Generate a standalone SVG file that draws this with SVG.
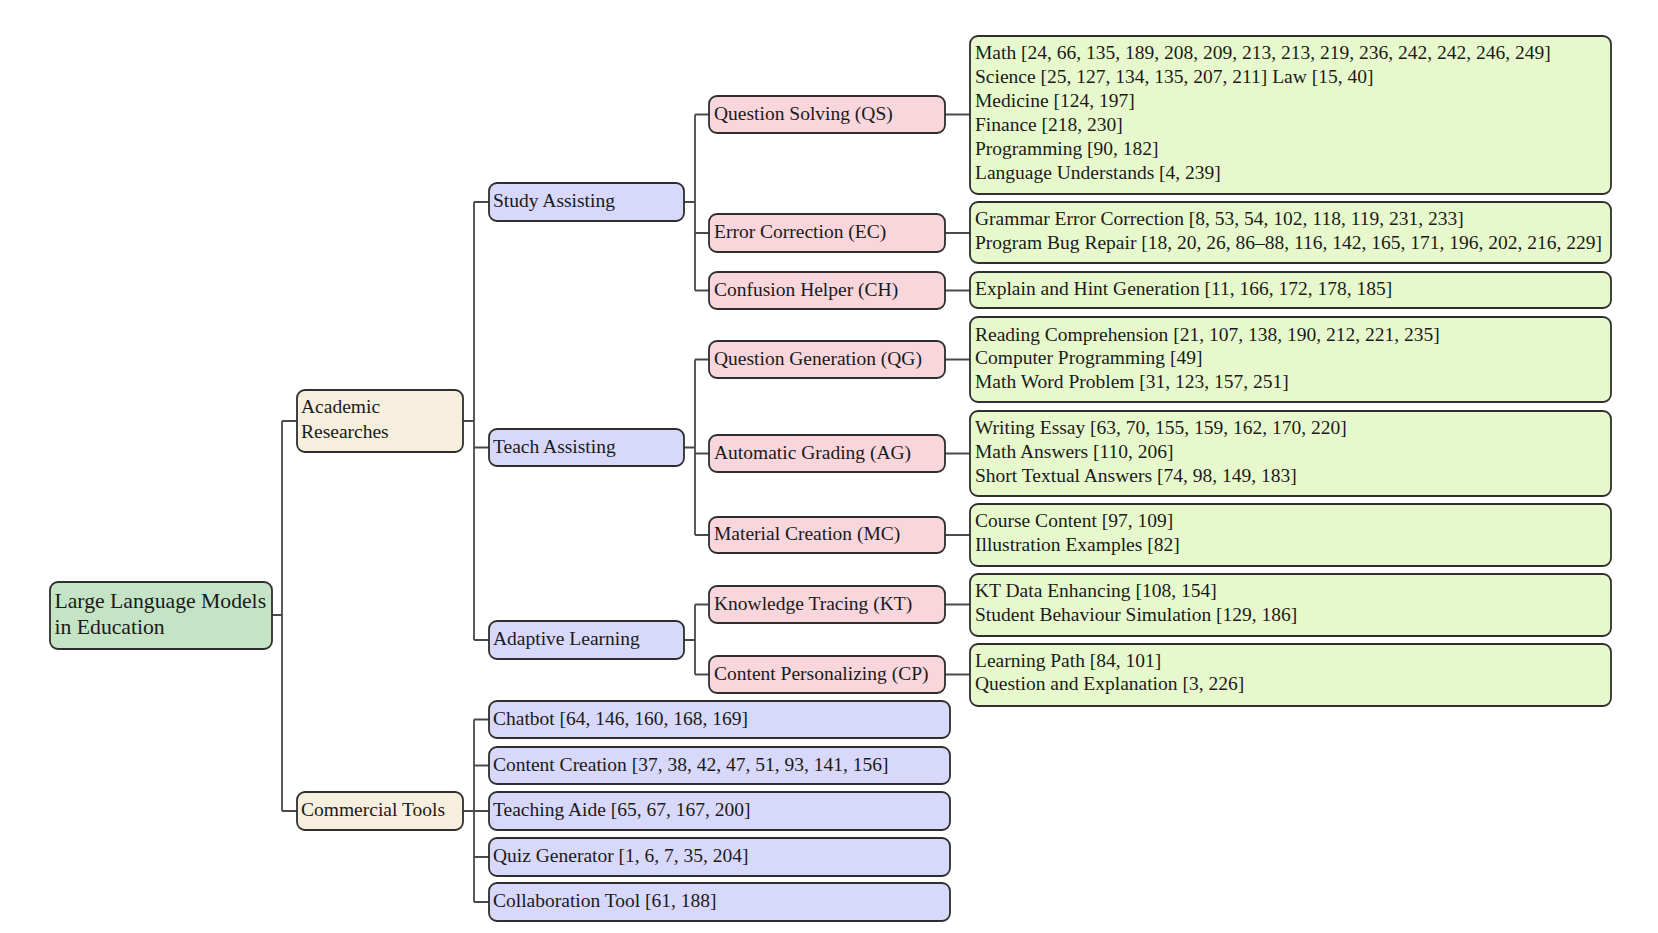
<svg xmlns="http://www.w3.org/2000/svg" width="1658" height="933" viewBox="0 0 1658 933">
<style>
text{font-family:"Liberation Serif","Times New Roman",serif;font-size:19.5px;fill:#1a1a1a}
.box{stroke:#2e2e2e;stroke-width:1.8}
.root{fill:#c5e4c5}
.l1{fill:#f6efde}
.l2{fill:#d8d8fb}
.l3{fill:#f8d6dc}
.l4{fill:#e7f9cc}
.conn{fill:none;stroke:#4a4a4a;stroke-width:1.8}
</style>
<rect width="1658" height="933" fill="#ffffff"/>
<g id="connectors" class="conn">
<path d="M272 615H282M282 421V811M282 421H297M282 811H297"/>
<path d="M463 421H474M474 202V640M474 202H489M474 447.5H489M474 640H489"/>
<path d="M463 811H474M474 719.5V902M474 719.5H489M474 765.5H489M474 811H489M474 857H489M474 902H489"/>
<path d="M684 202H695M695 114.5V290.5M695 114.5H709M695 233H709M695 290.5H709"/>
<path d="M684 447.5H695M695 359.5V535M695 359.5H709M695 453.5H709M695 535H709"/>
<path d="M684 640H695M695 604.5V674.5M695 604.5H709M695 674.5H709"/>
<path d="M945 114.5H970M945 233H970M945 290.5H970M945 359.5H970M945 453.5H970M945 535H970M945 604.5H970M945 674.5H970"/>
</g>
<g id="root"><rect class="box root" x="50" y="582" width="222" height="67" rx="8"/><text x="54.5" y="608" style="font-size:21.7px">Large Language Models</text><text x="54.5" y="633.5" style="font-size:21.7px">in Education</text></g>
<g id="academic"><rect class="box l1" x="297" y="390" width="166" height="62" rx="8"/><text x="301" y="413">Academic</text><text x="301" y="438">Researches</text></g>
<g id="commercial"><rect class="box l1" x="297" y="792" width="166" height="38" rx="8"/><text x="301" y="815.5">Commercial Tools</text></g>
<g id="study"><rect class="box l2" x="489" y="183" width="195" height="38" rx="8"/><text x="493" y="207">Study Assisting</text></g>
<g id="teach"><rect class="box l2" x="489" y="429" width="195" height="37" rx="8"/><text x="493" y="452.5">Teach Assisting</text></g>
<g id="adaptive"><rect class="box l2" x="489" y="621" width="195" height="38" rx="8"/><text x="493" y="645">Adaptive Learning</text></g>
<g id="chatbot"><rect class="box l2" x="489" y="701" width="461" height="37" rx="8"/><text x="493" y="724.5">Chatbot [64, 146, 160, 168, 169]</text></g>
<g id="content-creation"><rect class="box l2" x="489" y="747" width="461" height="37" rx="8"/><text x="493" y="770.5">Content Creation [37, 38, 42, 47, 51, 93, 141, 156]</text></g>
<g id="teaching-aide"><rect class="box l2" x="489" y="792" width="461" height="38" rx="8"/><text x="493" y="815.5">Teaching Aide [65, 67, 167, 200]</text></g>
<g id="quiz"><rect class="box l2" x="489" y="838" width="461" height="38" rx="8"/><text x="493" y="861.5">Quiz Generator [1, 6, 7, 35, 204]</text></g>
<g id="collab"><rect class="box l2" x="489" y="883" width="461" height="38" rx="8"/><text x="493" y="906.5">Collaboration Tool [61, 188]</text></g>
<g id="qs"><rect class="box l3" x="709" y="96" width="236" height="37" rx="8"/><text x="714" y="119.5">Question Solving (QS)</text></g>
<g id="ec"><rect class="box l3" x="709" y="214" width="236" height="38" rx="8"/><text x="714" y="237.5">Error Correction (EC)</text></g>
<g id="ch"><rect class="box l3" x="709" y="272" width="236" height="37" rx="8"/><text x="714" y="295.5">Confusion Helper (CH)</text></g>
<g id="qg"><rect class="box l3" x="709" y="341" width="236" height="37" rx="8"/><text x="714" y="364.5">Question Generation (QG)</text></g>
<g id="ag"><rect class="box l3" x="709" y="435" width="236" height="37" rx="8"/><text x="714" y="458.5">Automatic Grading (AG)</text></g>
<g id="mc"><rect class="box l3" x="709" y="517" width="236" height="36" rx="8"/><text x="714" y="540">Material Creation (MC)</text></g>
<g id="kt"><rect class="box l3" x="709" y="586" width="236" height="37" rx="8"/><text x="714" y="609.5">Knowledge Tracing (KT)</text></g>
<g id="cp"><rect class="box l3" x="709" y="656" width="236" height="37" rx="8"/><text x="714" y="679.5">Content Personalizing (CP)</text></g>
<g id="qs-leaf"><rect class="box l4" x="970" y="36" width="641" height="158" rx="8"/>
<text x="975" y="58.5">Math [24, 66, 135, 189, 208, 209, 213, 213, 219, 236, 242, 242, 246, 249]</text>
<text x="975" y="82.5">Science [25, 127, 134, 135, 207, 211] Law [15, 40]</text>
<text x="975" y="106.5">Medicine [124, 197]</text>
<text x="975" y="130.5">Finance [218, 230]</text>
<text x="975" y="154.5">Programming [90, 182]</text>
<text x="975" y="178.5">Language Understands [4, 239]</text></g>
<g id="ec-leaf"><rect class="box l4" x="970" y="202" width="641" height="61" rx="8"/>
<text x="975" y="224.5">Grammar Error Correction [8, 53, 54, 102, 118, 119, 231, 233]</text>
<text x="975" y="248.5">Program Bug Repair [18, 20, 26, 86–88, 116, 142, 165, 171, 196, 202, 216, 229]</text></g>
<g id="ch-leaf"><rect class="box l4" x="970" y="272" width="641" height="36" rx="8"/>
<text x="975" y="295">Explain and Hint Generation [11, 166, 172, 178, 185]</text></g>
<g id="qg-leaf"><rect class="box l4" x="970" y="317" width="641" height="85" rx="8"/>
<text x="975" y="340.5">Reading Comprehension [21, 107, 138, 190, 212, 221, 235]</text>
<text x="975" y="364">Computer Programming [49]</text>
<text x="975" y="387.5">Math Word Problem [31, 123, 157, 251]</text></g>
<g id="ag-leaf"><rect class="box l4" x="970" y="411" width="641" height="85" rx="8"/>
<text x="975" y="434">Writing Essay [63, 70, 155, 159, 162, 170, 220]</text>
<text x="975" y="457.5">Math Answers [110, 206]</text>
<text x="975" y="481.5">Short Textual Answers [74, 98, 149, 183]</text></g>
<g id="mc-leaf"><rect class="box l4" x="970" y="504" width="641" height="62" rx="8"/>
<text x="975" y="527">Course Content [97, 109]</text>
<text x="975" y="551">Illustration Examples [82]</text></g>
<g id="kt-leaf"><rect class="box l4" x="970" y="574" width="641" height="62" rx="8"/>
<text x="975" y="596.5">KT Data Enhancing [108, 154]</text>
<text x="975" y="620.5">Student Behaviour Simulation [129, 186]</text></g>
<g id="cp-leaf"><rect class="box l4" x="970" y="644" width="641" height="62" rx="8"/>
<text x="975" y="666.5">Learning Path [84, 101]</text>
<text x="975" y="690">Question and Explanation [3, 226]</text></g>
</svg>
